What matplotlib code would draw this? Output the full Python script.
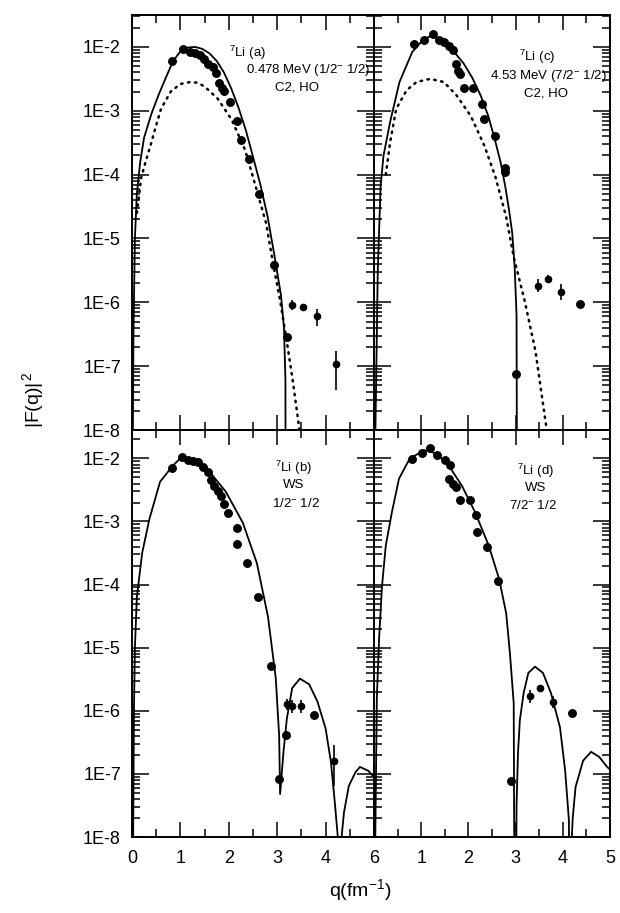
import matplotlib
matplotlib.use("Agg")
import matplotlib.pyplot as plt
import numpy as np
from matplotlib.ticker import FixedLocator, FixedFormatter, LogLocator, NullFormatter, MultipleLocator

plt.rcParams['font.family'] = ['Liberation Sans', 'DejaVu Sans']
plt.rcParams['mathtext.fontset'] = 'custom'
plt.rcParams['mathtext.rm'] = 'Liberation Sans'
plt.rcParams['mathtext.it'] = 'Liberation Sans'
plt.rcParams['mathtext.bf'] = 'Liberation Sans'

# ---------------- data (q in fm^-1, values as log10 |F(q)|^2) ----------------
# Panel (a): 7Li 0.478 MeV, C2 HO
a_pts_q = [0.82, 1.05, 1.20, 1.30, 1.41, 1.49, 1.58, 1.67, 1.73, 1.80, 1.85, 1.91,
           2.02, 2.16, 2.25, 2.42, 2.63, 2.94, 3.21]
a_pts_lg = [-2.22, -2.04, -2.08, -2.10, -2.12, -2.19, -2.27, -2.32, -2.41, -2.57, -2.64, -2.69,
            -2.86, -3.16, -3.46, -3.76, -4.30, -5.41, -6.54]
a_err_q = [3.31, 3.54, 3.82, 4.21]
a_err_lg = [-6.04, -6.08, -6.22, -6.97]
a_err_dn = [0.08, 0.05, 0.15, 0.40]
a_err_up = [0.08, 0.05, 0.12, 0.20]
a_solid_q = [0.01, 0.03, 0.06, 0.10, 0.17, 0.25, 0.40, 0.55, 0.70, 0.85, 1.00, 1.15, 1.30,
             1.45, 1.60, 1.75, 1.90, 2.05, 2.20, 2.35, 2.50, 2.65, 2.80, 2.95, 3.08, 3.14, 3.17, 3.18]
a_solid_lg = [-9.0, -6.5, -5.0, -4.3, -3.8, -3.42, -3.05, -2.75, -2.48, -2.22, -2.07, -2.01, -2.00,
              -2.03, -2.10, -2.22, -2.40, -2.65, -2.95, -3.30, -3.72, -4.15, -4.65, -5.30, -5.90, -6.40, -7.20, -12.0]
a_dot_q = [0.10, 0.19, 0.28, 0.38, 0.48, 0.60, 0.80, 1.00, 1.20, 1.35, 1.50, 1.77, 2.06, 2.34,
           2.55, 2.77, 2.91, 3.06, 3.21, 3.32, 3.46]
a_dot_lg = [-4.60, -4.05, -3.80, -3.55, -3.28, -2.97, -2.70, -2.58, -2.55, -2.56, -2.62, -2.81, -3.14, -3.62,
            -4.17, -4.76, -5.37, -5.97, -6.67, -7.22, -8.00]

# Panel (c): 7Li 4.53 MeV, C2 HO
c_pts_q = [0.85, 1.06, 1.24, 1.37, 1.49, 1.59, 1.67, 1.74, 1.79, 1.82, 1.90, 2.10, 2.28, 2.33,
           2.56, 2.77, 2.78, 3.00, 4.37]
c_pts_lg = [-1.96, -1.89, -1.79, -1.89, -1.92, -1.99, -2.05, -2.26, -2.37, -2.42, -2.65, -2.65, -2.89, -3.13,
            -3.39, -3.90, -3.96, -7.13, -6.03]
c_err_q = [3.47, 3.68, 3.97]
c_err_lg = [-5.74, -5.63, -5.84]
c_err_dn = [0.10, 0.05, 0.12]
c_err_up = [0.10, 0.05, 0.12]
c_solid_q = [0.02, 0.08, 0.14, 0.20, 0.34, 0.54, 0.81, 1.00, 1.16, 1.35, 1.52, 1.70, 1.90, 2.08,
             2.26, 2.42, 2.56, 2.68, 2.78, 2.86, 2.93, 2.98, 3.02, 3.04]
c_solid_lg = [-8.5, -5.5, -4.18, -3.71, -3.18, -2.55, -2.08, -1.92, -1.84, -1.86, -1.95, -2.08, -2.26, -2.48,
              -2.76, -3.08, -3.45, -3.80, -4.18, -4.55, -4.92, -5.45, -6.20, -12.0]
c_dot_q = [0.25, 0.34, 0.47, 0.69, 0.90, 1.19, 1.48, 1.75, 2.05, 2.34, 2.57, 2.80, 2.96, 3.19, 3.42, 3.66]
c_dot_lg = [-4.00, -3.50, -2.97, -2.68, -2.55, -2.50, -2.55, -2.76, -3.08, -3.55, -4.03, -4.66, -5.29,
            -5.97, -6.76, -8.00]

# Panel (b): 7Li WS 1/2- 1/2
b_pts_q = [0.83, 1.03, 1.15, 1.25, 1.36, 1.46, 1.56, 1.63, 1.70, 1.77, 1.84, 1.91, 1.98, 2.17, 2.17,
           2.38, 2.60, 2.88, 3.03, 3.18, 3.77]
b_pts_lg = [-2.15, -1.97, -2.03, -2.04, -2.06, -2.13, -2.21, -2.35, -2.43, -2.51, -2.59, -2.72, -2.86,
            -3.11, -3.35, -3.66, -4.19, -5.29, -7.08, -6.39, -6.06]
b_err_q = [3.20, 3.30, 3.49, 4.18]
b_err_lg = [-5.90, -5.93, -5.93, -6.79]
b_err_dn = [0.08, 0.10, 0.10, 0.40]
b_err_up = [0.08, 0.10, 0.10, 0.25]
b_solid_q = [0.02, 0.04, 0.06, 0.10, 0.21, 0.36, 0.58, 0.85, 1.04, 1.32, 1.60, 1.94, 2.29, 2.58, 2.81,
             2.97, 3.04, 3.06, 3.13, 3.20, 3.31, 3.47, 3.66, 3.83, 4.00, 4.11, 4.19, 4.25, 4.29,
             4.33, 4.38, 4.48, 4.62, 4.71, 4.88, 5.00]
b_solid_lg = [-8.5, -6.0, -5.0, -4.2, -3.50, -2.96, -2.37, -2.11, -1.97, -2.02, -2.21, -2.53, -3.02,
              -3.66, -4.51, -5.48, -6.39, -7.32, -6.65, -6.12, -5.64, -5.49, -5.58, -5.85, -6.28, -6.81,
              -7.45, -7.98, -12.0, -8.0, -7.61, -7.19, -6.97, -6.89, -6.95, -7.05]

# Panel (d): 7Li WS 7/2- 1/2
d_pts_q = [0.80, 1.02, 1.19, 1.34, 1.50, 1.61, 1.58, 1.67, 1.73, 1.83, 2.04, 2.16, 2.18, 2.39, 2.63,
           2.91, 4.20]
d_pts_lg = [-2.01, -1.92, -1.83, -1.95, -2.03, -2.11, -2.32, -2.40, -2.45, -2.66, -2.66, -2.90, -3.17,
            -3.41, -3.94, -7.11, -6.04]
d_err_q = [3.31, 3.51, 3.80]
d_err_lg = [-5.77, -5.64, -5.86]
d_err_dn = [0.10, 0.05, 0.10]
d_err_up = [0.10, 0.05, 0.10]
d_solid_q = [0.02, 0.06, 0.11, 0.17, 0.25, 0.38, 0.53, 0.76, 1.07, 1.31, 1.58, 1.86, 2.14, 2.43, 2.65,
             2.80, 2.88, 2.96, 2.99, 3.02, 3.05, 3.09, 3.17, 3.27, 3.41, 3.58, 3.75, 3.94, 4.05, 4.13,
             4.15, 4.18, 4.21, 4.27, 4.43, 4.60, 4.77, 4.94, 5.00]
d_solid_lg = [-8.5, -5.8, -4.82, -4.02, -3.38, -2.85, -2.32, -2.00, -1.87, -1.92, -2.11, -2.43, -2.85,
              -3.38, -3.91, -4.45, -5.09, -5.88, -12.0, -7.5, -6.68, -6.15, -5.72, -5.40, -5.30, -5.40,
              -5.72, -6.26, -6.95, -7.74, -12.0, -8.2, -7.7, -7.21, -6.79, -6.65, -6.73, -6.89, -6.93]

ytick_vals = [1e-8, 1e-7, 1e-6, 1e-5, 1e-4, 1e-3, 1e-2]
ytick_labels = ['1E-8', '1E-7', '1E-6', '1E-5', '1E-4', '1E-3', '1E-2']
xtick_vals = [0, 1, 2, 3, 4, 5]
xlabels_left = ['0', '1', '2', '3', '4', '6']
xlabels_right = ['', '1', '2', '3', '4', '5']

panel_text = {
    'a': [(r'$^{7}$Li (a)', 247, 53), (r'0.478 MeV (1/2$^{-}$ 1/2)', 308, 70), ('C2, HO', 297, 87)],
    'c': [(r'$^{7}$Li (c)', 537, 57), (r'4.53 MeV (7/2$^{-}$ 1/2)', 548, 76), ('C2, HO', 546, 94)],
    'b': [(r'$^{7}$Li (b)', 293, 468), ('WS', 294, 485), (r'1/2$^{-}$ 1/2', 296, 503)],
    'd': [(r'$^{7}$Li (d)', 535, 471), ('WS', 536, 488), (r'7/2$^{-}$ 1/2', 533, 505)],
}

W, H = 620, 913
fig = plt.figure(figsize=(W / 100, H / 100), dpi=100)

def rect(l, t, r, b):
    return [l / W, 1 - b / H, (r - l) / W, (b - t) / H]

axes = {
    'a': fig.add_axes(rect(132, 15, 374, 430)),
    'c': fig.add_axes(rect(374, 15, 610, 430)),
    'b': fig.add_axes(rect(132, 430, 374, 837)),
    'd': fig.add_axes(rect(374, 430, 610, 837)),
}

def lg(v):
    return 10.0 ** np.asarray(v, dtype=float)

def draw(ax, pq, plg, eq, elg, edn, eup, sq, slg, dq=None, dlg=None):
    ax.plot(sq, lg(slg), color='black', lw=1.3, solid_joinstyle='round')
    if dq is not None:
        ax.plot(dq, lg(dlg), color='black', lw=1.8, linestyle=(0, (0.6, 2.2)),
                dash_capstyle='round')
    ax.plot(pq, lg(plg), 'o', color='black', ms=5.4)
    y = lg(elg)
    lo = y - lg(np.asarray(elg) - np.asarray(edn))
    hi = lg(np.asarray(elg) + np.asarray(eup)) - y
    ax.errorbar(eq, y, yerr=[lo, hi], fmt='o', color='black', ms=4.5, elinewidth=1.2, capsize=0)

draw(axes['a'], a_pts_q, a_pts_lg, a_err_q, a_err_lg, a_err_dn, a_err_up,
     a_solid_q, a_solid_lg, a_dot_q, a_dot_lg)
draw(axes['c'], c_pts_q, c_pts_lg, c_err_q, c_err_lg, c_err_dn, c_err_up,
     c_solid_q, c_solid_lg, c_dot_q, c_dot_lg)
draw(axes['b'], b_pts_q, b_pts_lg, b_err_q, b_err_lg, b_err_dn, b_err_up,
     b_solid_q, b_solid_lg)
draw(axes['d'], d_pts_q, d_pts_lg, d_err_q, d_err_lg, d_err_dn, d_err_up,
     d_solid_q, d_solid_lg)

for key, ax in axes.items():
    ax.set_yscale('log')
    ax.set_xlim(0, 5)
    if key in ('a', 'c'):
        ax.set_ylim(1e-8, 10 ** -1.5)
    else:
        ax.set_ylim(1e-8, 10 ** -1.55)
    ax.yaxis.set_major_locator(FixedLocator(ytick_vals))
    ax.yaxis.set_minor_locator(LogLocator(base=10, subs=np.arange(2, 10), numticks=20))
    ax.yaxis.set_minor_formatter(NullFormatter())
    ax.xaxis.set_major_locator(FixedLocator(xtick_vals))
    ax.xaxis.set_minor_locator(MultipleLocator(0.5))
    ax.tick_params(axis='both', which='both', direction='in', top=True, right=True,
                   width=1.1, colors='black')
    ax.tick_params(axis='y', which='major', length=12, labelsize=13, pad=8)
    ax.tick_params(axis='y', which='minor', length=6)
    ax.tick_params(axis='x', which='major', length=11, labelsize=13, pad=9)
    ax.tick_params(axis='x', which='minor', length=6)
    for s in ax.spines.values():
        s.set_linewidth(1.4)
    if key in ('a', 'b'):
        ax.yaxis.set_major_formatter(FixedFormatter(ytick_labels))
    else:
        ax.yaxis.set_major_formatter(NullFormatter())
    if key == 'b':
        ax.xaxis.set_major_formatter(FixedFormatter(xlabels_left))
    elif key == 'd':
        ax.xaxis.set_major_formatter(FixedFormatter(xlabels_right))
    else:
        ax.xaxis.set_major_formatter(NullFormatter())
    for txt, px, py in panel_text[key]:
        fig.text(px / W, 1 - py / H, txt, ha='center', va='center', fontsize=9.5)

fig.text(33 / W, 1 - 400 / H, r'|F(q)|$^{\,2}$', rotation=90, ha='center', va='center', fontsize=14)
fig.text(360 / W, 1 - 890 / H, r'q(fm$^{-1}$)', ha='center', va='center', fontsize=14)

fig.savefig('out.png', dpi=100)
